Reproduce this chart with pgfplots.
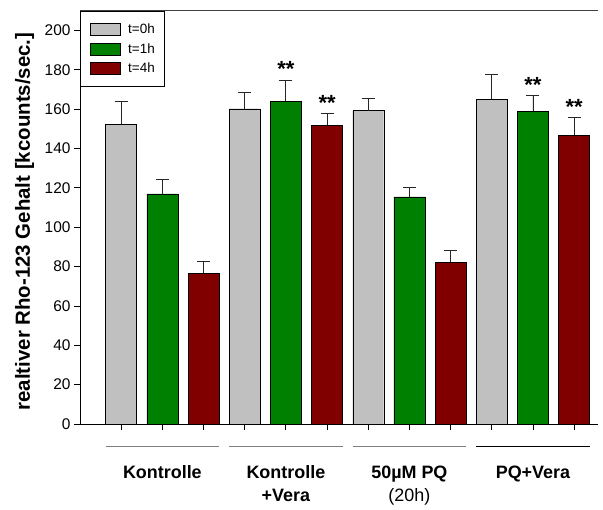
\documentclass[border=0pt]{standalone}
\usepackage{pgfplots}
\pgfplotsset{compat=1.18}
\usepackage{fontspec}
\setmainfont{Liberation Sans}
\definecolor{cgray}{RGB}{192,192,192}
\definecolor{cgreen}{RGB}{0,128,0}
\definecolor{cred}{RGB}{128,0,0}
\begin{document}
\begin{tikzpicture}
\path (-80bp,-81bp) rectangle (523bp,424bp);
\begin{axis}[
  at={(0,0)}, anchor=south west,
  scale only axis, width=518bp, height=413.3bp,
  xmin=0, xmax=12.58, ymin=0, ymax=210,
  axis x line*=bottom, axis y line*=left,
  ytick={0,20,...,200}, xtick={1,...,12}, xticklabels={},
  tick align=outside, major tick length=6bp,
  tick style={black, line width=0.8bp},
  axis line style={black, line width=0.8bp},
  /pgf/number format/assume math mode=true,
  yticklabel style={font=\fontsize{15.5}{18}\selectfont},
  ybar, bar width=31bp, bar shift=0pt,
  clip=false,
  every axis y label/.style={at={([xshift=-55.5bp]rel axis cs:0,0.49)}, rotate=90, anchor=center},
  ylabel={\bfseries\fontsize{20.5}{24}\selectfont realtiver Rho-123 Gehalt [kcounts/sec.]},
  error bars/y dir=plus, error bars/y explicit,
  error bars/error bar style={black!85, line width=0.8bp},
  error bars/error mark options={rotate=90, black!85, line width=0.8bp, mark size=6.5bp},
  legend style={at={(0,1)}, anchor=north west, draw=black, line width=0.8bp,
    font=\fontsize{13.5}{16}\selectfont, inner xsep=10bp, inner ysep=12bp, row sep=6.7bp,
    column sep=7bp, nodes={inner sep=0bp}},
  legend cell align=left,
  legend image code/.code={\draw[#1, line width=0.8bp] (0bp,-6bp) rectangle (30bp,6bp);},
]
\addplot[fill=cgray, draw=black] table[x=x, y=y, y error=e] {
x y e
1 152.3 11.5
4 160.2 8.1
7 159.2 6.4
10 165.0 12.8
};
\addlegendentry{t=0h}
\addplot[fill=cgreen, draw=black] table[x=x, y=y, y error=e] {
x y e
2 116.9 7.3
5 164.0 10.8
8 115.4 4.9
11 158.9 8.1
};
\addlegendentry{t=1h}
\addplot[fill=cred, draw=black] table[x=x, y=y, y error=e] {
x y e
3 76.5 5.9
6 151.8 6.2
9 82.1 6.2
12 146.7 9.0
};
\addlegendentry{t=4h}
\draw[black!75, line width=0.8bp] (rel axis cs:0,1) -- (rel axis cs:1,1);
\draw[gray, line width=0.8bp] ([yshift=-22bp]axis cs:0.625,0) -- ([yshift=-22bp]axis cs:3.375,0);
\draw[gray, line width=0.8bp] ([yshift=-22bp]axis cs:3.625,0) -- ([yshift=-22bp]axis cs:6.375,0);
\draw[gray, line width=0.8bp] ([yshift=-22bp]axis cs:6.625,0) -- ([yshift=-22bp]axis cs:9.375,0);
\draw[black, line width=0.8bp] ([yshift=-22bp]axis cs:9.625,0) -- ([yshift=-22bp]axis cs:12.375,0);
\node[anchor=base, font=\bfseries\fontsize{18}{20}\selectfont] at ([yshift=-55bp]axis cs:2,0) {Kontrolle};
\node[anchor=base, font=\bfseries\fontsize{18}{20}\selectfont] at ([yshift=-55bp]axis cs:5,0) {Kontrolle};
\node[anchor=base, font=\bfseries\fontsize{18}{20}\selectfont] at ([yshift=-78bp]axis cs:5,0) {+Vera};
\node[anchor=base, font=\bfseries\fontsize{18}{20}\selectfont] at ([yshift=-55bp]axis cs:8,0) {50µM PQ};
\node[anchor=base, font=\fontsize{18}{20}\selectfont] at ([yshift=-78bp]axis cs:8,0) {(20h)};
\node[anchor=base, font=\bfseries\fontsize{18}{20}\selectfont] at ([yshift=-55bp]axis cs:11,0) {PQ+Vera};
\node[anchor=base, font=\bfseries\fontsize{22}{24}\selectfont] at ([yshift=3bp]axis cs:5,174.8) {**};
\node[anchor=base, font=\bfseries\fontsize{22}{24}\selectfont] at ([yshift=3bp]axis cs:6,158.0) {**};
\node[anchor=base, font=\bfseries\fontsize{22}{24}\selectfont] at ([yshift=3bp]axis cs:11,167.0) {**};
\node[anchor=base, font=\bfseries\fontsize{22}{24}\selectfont] at ([yshift=3bp]axis cs:12,155.7) {**};
\end{axis}
\end{tikzpicture}
\end{document}
